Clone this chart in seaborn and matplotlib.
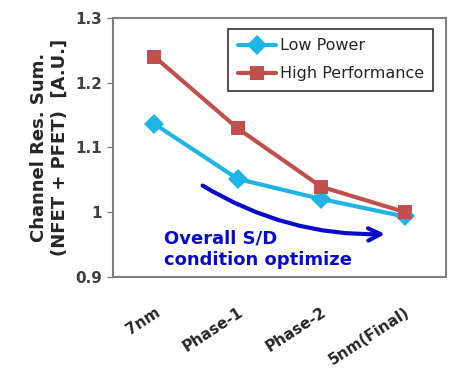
import pandas as pd
import matplotlib
matplotlib.use("Agg")
import matplotlib.pyplot as plt
import seaborn as sns

# dados do gráfico
etapas = ["7nm", "Phase-1", "Phase-2", "5nm(Final)"]
low_power = [1.136, 1.051, 1.020, 0.993]
high_perf = [1.240, 1.129, 1.039, 1.000]
series = ["Low Power", "High Performance"]
cores = {"Low Power": "#1EB4E6", "High Performance": "#C0504D"}
marcadores = {"Low Power": "D", "High Performance": "s"}
yticks = [0.9, 1.0, 1.1, 1.2, 1.3]
ytick_labels = ["0.9", "1", "1.1", "1.2", "1.3"]

df = pd.DataFrame({
    "Etapa": etapas * 2,
    "x": list(range(len(etapas))) * 2,
    "Valor": low_power + high_perf,
    "Serie": [series[0]] * len(etapas) + [series[1]] * len(etapas),
})

sns.set_style("white")
plt.rcParams["font.family"] = ["DejaVu Sans"]

fig, ax = plt.subplots(figsize=(4.6, 3.79), dpi=100)
fig.subplots_adjust(left=0.245, right=0.97, top=0.953, bottom=0.27)

sns.lineplot(data=df, x="x", y="Valor", hue="Serie", style="Serie",
             hue_order=series, style_order=series,
             palette=cores, markers=marcadores, dashes=False,
             linewidth=3, markersize=10, markeredgewidth=0, ax=ax)

ax.set_xlim(-0.5, len(etapas) - 0.5)
ax.set_ylim(0.9, 1.3)
ax.set_yticks(yticks)
ax.set_yticklabels(ytick_labels, fontsize=11, fontweight="bold", color="#404040")
ax.set_xticks(range(len(etapas)))
ax.set_xticklabels(etapas, rotation=33, ha="right", rotation_mode="anchor",
                   fontsize=11, fontweight="bold")
ax.tick_params(axis="x", length=0, pad=20)
ax.tick_params(axis="y", length=4, width=1, color="#808080", direction="out", left=True)
ax.set_xlabel("")
ax.set_ylabel("Channel Res. Sum.\n(NFET + PFET)  [A.U.]", fontsize=13,
              fontweight="bold", labelpad=5)

for s in ax.spines.values():
    s.set_color("#808080")
    s.set_linewidth(1.5)

leg = ax.legend(loc="upper right", fontsize=11.5, frameon=True, fancybox=False,
                edgecolor="black", borderpad=0.6, labelspacing=0.8,
                handlelength=2.4, handletextpad=0.2, bbox_to_anchor=(0.985, 0.988))
leg.get_frame().set_linewidth(1.2)
for t in leg.get_texts():
    t.set_color("#262626")

# seta e texto de anotação
ax.annotate("", xy=(2.80, 0.966), xytext=(0.55, 1.043),
            arrowprops=dict(arrowstyle="->", color="#0A0ACD", lw=3,
                            mutation_scale=22,
                            connectionstyle="arc3,rad=0.15"))
ax.text(0.11, 0.942, "Overall S/D\ncondition optimize", color="#0A0ACD",
        fontsize=13, fontweight="bold", va="center", ha="left", linespacing=1.25)

fig.savefig("out.png", dpi=100)
